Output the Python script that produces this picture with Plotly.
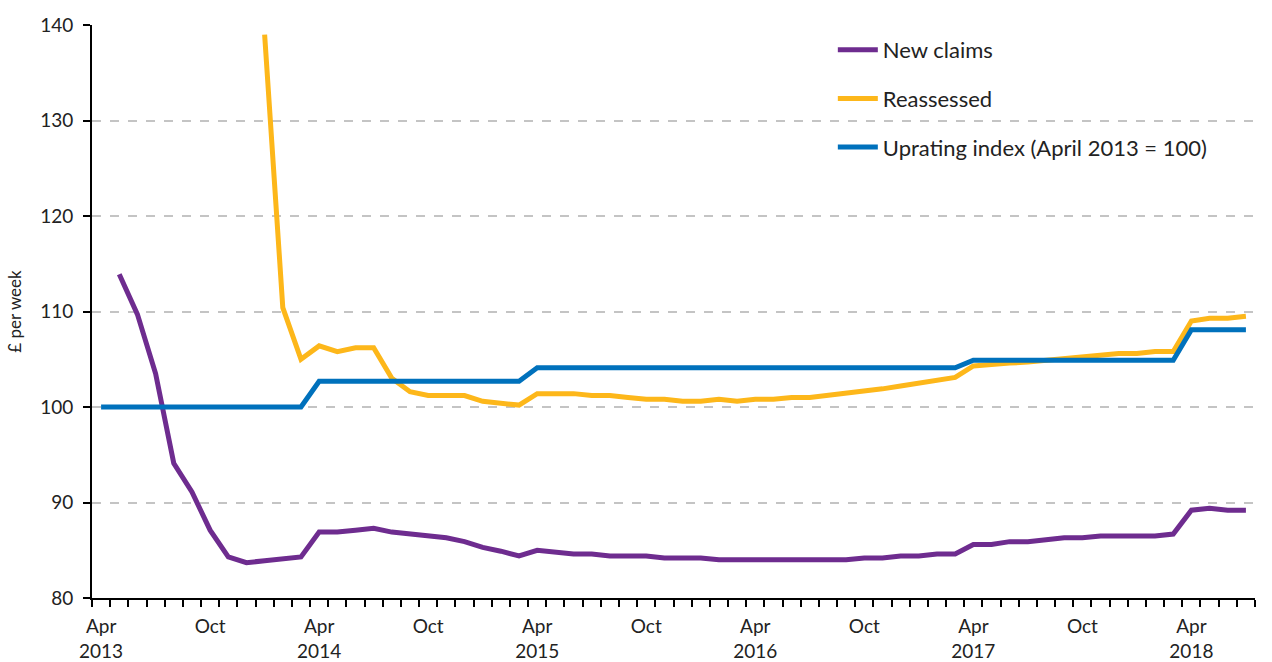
import pandas as pd
import plotly.graph_objects as go

# Monthly categories, April 2013 to July 2018
months = [p.strftime("%b %Y") for p in pd.period_range("2013-04", "2018-07", freq="M")]

# Average award, £ per week
new_claims = [
    None, 113.9, 109.7, 103.5, 94.1, 91.1, 87.1, 84.3, 83.7, 83.9, 84.1, 84.3,
    86.9, 86.9, 87.1, 87.3, 86.9, 86.7, 86.5, 86.3, 85.9, 85.3, 84.9, 84.4,
    85.0, 84.8, 84.6, 84.6, 84.4, 84.4, 84.4, 84.2, 84.2, 84.2, 84.0, 84.0,
    84.0, 84.0, 84.0, 84.0, 84.0, 84.0, 84.2, 84.2, 84.4, 84.4, 84.6, 84.6,
    85.6, 85.6, 85.9, 85.9, 86.1, 86.3, 86.3, 86.5, 86.5, 86.5, 86.5, 86.7,
    89.2, 89.4, 89.2, 89.2,
]

reassessed = [
    None, None, None, None, None, None, None, None, None, 139.0, 110.4, 105.0,
    106.4, 105.8, 106.2, 106.2, 103.0, 101.6, 101.2, 101.2, 101.2, 100.6, 100.4, 100.2,
    101.4, 101.4, 101.4, 101.2, 101.2, 101.0, 100.8, 100.8, 100.6, 100.6, 100.8, 100.6,
    100.8, 100.8, 101.0, 101.0, 101.2, 101.4, 101.6, 101.9, 102.2, 102.5, 102.9, 103.1,
    104.3, 104.5, 104.6, 104.7, 104.9, 105.1, 105.3, 105.4, 105.6, 105.6, 105.8, 105.8,
    109.0, 109.3, 109.3, 109.5,
]

uprating = [
    100.0, 100.0, 100.0, 100.0, 100.0, 100.0, 100.0, 100.0, 100.0, 100.0, 100.0, 100.0,
    102.7, 102.7, 102.7, 102.7, 102.7, 102.7, 102.7, 102.7, 102.7, 102.7, 102.7, 102.7,
    104.1, 104.1, 104.1, 104.1, 104.1, 104.1, 104.1, 104.1, 104.1, 104.1, 104.1, 104.1,
    104.1, 104.1, 104.1, 104.1, 104.1, 104.1, 104.1, 104.1, 104.1, 104.1, 104.1, 104.1,
    104.9, 104.9, 104.9, 104.9, 104.9, 104.9, 104.9, 104.9, 104.9, 104.9, 104.9, 104.9,
    108.1, 108.1, 108.1, 108.1,
]

series_names = ["New claims", "Reassessed", "Uprating index (April 2013 = 100)"]
series_colors = ["#6E2C8F", "#FDB71A", "#0071BC"]

# Only April and October carry a label; every month gets a tick
tick_text = []
for m in months:
    mon, yr = m.split()
    if mon == "Apr":
        tick_text.append(f"Apr<br>{yr}")
    elif mon == "Oct":
        tick_text.append("Oct")
    else:
        tick_text.append("")

FONT = "Lato, 'Noto Sans', sans-serif"
TEXT_COLOR = "#222222"

fig = go.Figure()
for name, values, color, grp in zip(series_names, [new_claims, reassessed, uprating], series_colors, ["a", "b", "c"]):
    fig.add_trace(go.Scatter(
        x=months, y=values, name=name, mode="lines",
        line=dict(color=color, width=5),
        connectgaps=False, legendgroup=grp,
    ))

fig.update_layout(
    width=1272, height=662,
    margin=dict(l=92, r=17, t=25, b=64, autoexpand=False),
    paper_bgcolor="white", plot_bgcolor="white",
    font=dict(family=FONT, color=TEXT_COLOR, size=19),
    showlegend=True,
    legend=dict(
        x=0.637, y=0.993, xanchor="left", yanchor="top",
        font=dict(size=22, family=FONT, color=TEXT_COLOR),
        bgcolor="rgba(0,0,0,0)", traceorder="grouped", tracegroupgap=17,
        itemwidth=40,
    ),
    xaxis=dict(
        type="category", categoryorder="array", categoryarray=months,
        tickmode="array", tickvals=months, ticktext=tick_text, tickangle=0,
        tickson="boundaries", ticks="outside", ticklen=7, tickwidth=2, tickcolor="black",
        showline=True, linecolor="black", linewidth=2, showgrid=False,
        tickfont=dict(size=19, family=FONT, color=TEXT_COLOR),
        ticklabelstandoff=10,
        range=[-0.5, len(months) - 0.5], automargin=False,
    ),
    yaxis=dict(
        range=[80, 140], dtick=10, tick0=80,
        ticks="outside", ticklen=7, tickwidth=2, tickcolor="black",
        showline=True, linecolor="black", linewidth=2,
        showgrid=True, gridcolor="#c4c4c4", gridwidth=1.5, griddash="dash",
        zeroline=False, automargin=False,
        tickfont=dict(size=19, family=FONT, color=TEXT_COLOR),
        ticklabelstandoff=6,
        title=dict(text="£ per week", font=dict(size=17, family=FONT, color=TEXT_COLOR), standoff=14),
    ),
)

fig.write_html("out.html")
